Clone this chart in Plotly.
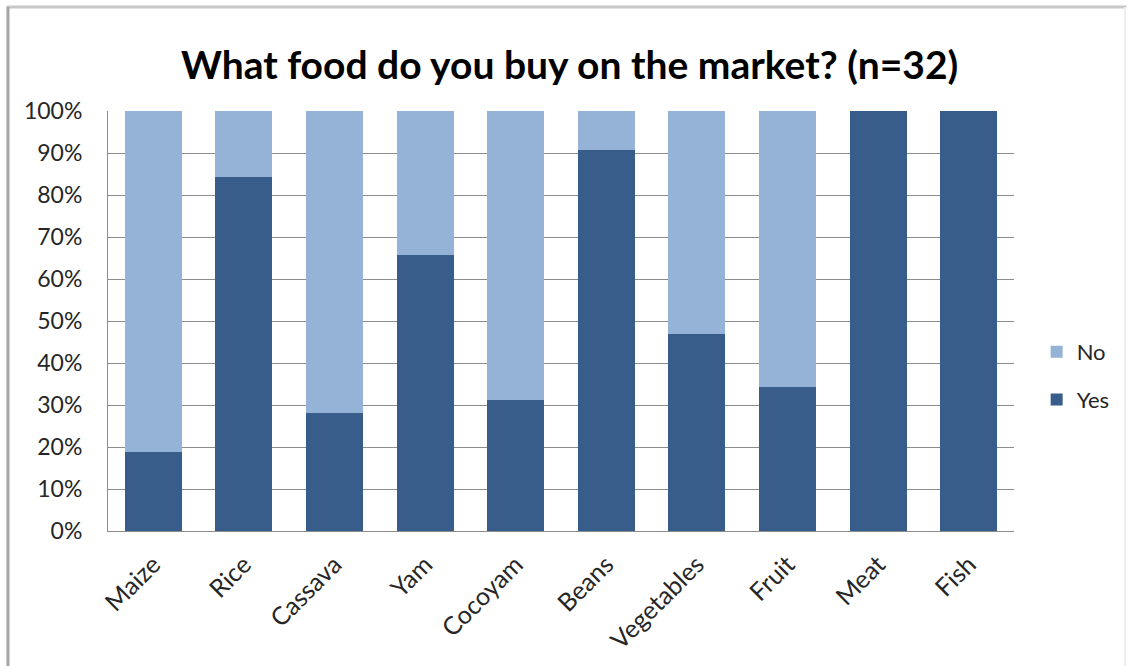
import plotly.graph_objects as go

# Survey: share of respondents who buy each food on the market (n=32)
categories = ["Maize", "Rice", "Cassava", "Yam", "Cocoyam", "Beans",
              "Vegetables", "Fruit", "Meat", "Fish"]
yes_share = [0.1875, 0.84375, 0.28125, 0.65625, 0.3125, 0.90625,
             0.46875, 0.34375, 1.0, 1.0]
no_share = [1 - v for v in yes_share]
y_ticks = [0, 0.1, 0.2, 0.3, 0.4, 0.5, 0.6, 0.7, 0.8, 0.9, 1.0]
y_tick_text = [f"{int(round(t * 100))}%" for t in y_ticks]

FONT = "Lato, 'Open Sans', sans-serif"
YES_COLOR = "#385D8A"
NO_COLOR = "#95B3D7"
GRID = "#8C8C8C"
TEXT = "#262626"

fig = go.Figure()
fig.add_trace(go.Bar(name="Yes", x=categories, y=yes_share,
                     marker=dict(color=YES_COLOR, line=dict(width=0)),
                     legendgroup="yes", legendrank=2))
fig.add_trace(go.Bar(name="No", x=categories, y=no_share,
                     marker=dict(color=NO_COLOR, line=dict(width=0)),
                     legendgroup="no", legendrank=1))

# outer frame edges (paper coords relative to the plot area)
frame = [
    dict(x0=-0.112, x1=1.124, y0=1.2476, y1=1.2476, color="#C8C8C8", w=3),
    dict(x0=-0.1104, x1=-0.1104, y0=1.2476, y1=-0.33, color="#A6A6A6", w=3),
    dict(x0=1.1225, x1=1.1225, y0=1.2476, y1=-0.33, color="#EEEEEE", w=2),
]

fig.update_layout(
    width=1128, height=666,
    barmode="stack", bargap=0.37,
    paper_bgcolor="white", plot_bgcolor="white",
    margin=dict(l=108, r=114, t=111, b=135, autoexpand=False),
    font=dict(family=FONT, color=TEXT),
    title=dict(text="<b>What food do you buy on the market? (n=32)</b>",
               font=dict(family=FONT, size=39, color="#000000"),
               x=0.505, xref="container", xanchor="center",
               y=0.902, yref="container", yanchor="middle"),
    xaxis=dict(tickangle=-45, tickfont=dict(size=25, color=TEXT),
               showline=True, linecolor=GRID, linewidth=1,
               ticks="", showgrid=False, ticklabelstandoff=8),
    yaxis=dict(range=[0, 1], tickvals=y_ticks, ticktext=y_tick_text,
               tickfont=dict(size=23, color=TEXT),
               showgrid=True, gridcolor=GRID, gridwidth=1,
               showline=True, linecolor=GRID, linewidth=1,
               ticks="", ticklabelstandoff=20, zeroline=False),
    legend=dict(traceorder="grouped", tracegroupgap=16,
                x=1.025, xanchor="left", y=0.369, yanchor="middle",
                font=dict(size=22, color=TEXT), itemwidth=30,
                bgcolor="rgba(0,0,0,0)"),
    shapes=[dict(type="line", xref="paper", yref="paper",
                 x0=f["x0"], x1=f["x1"], y0=f["y0"], y1=f["y1"],
                 line=dict(color=f["color"], width=f["w"]), layer="below")
            for f in frame],
)

fig.write_html("out.html")
